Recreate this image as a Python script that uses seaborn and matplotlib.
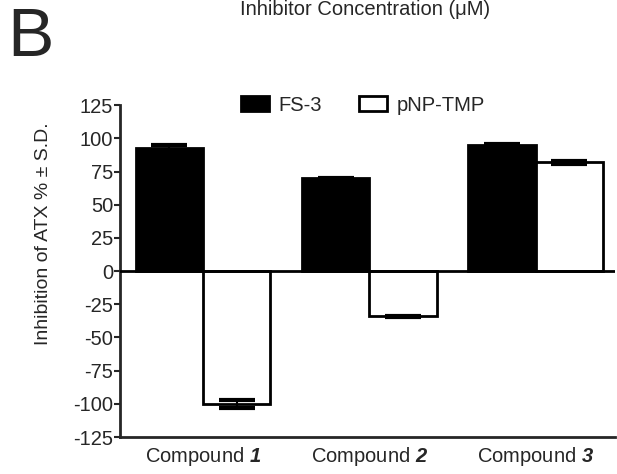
import numpy as np
import pandas as pd
import matplotlib
matplotlib.use("Agg")
import matplotlib.pyplot as plt
import seaborn as sns

# data
compounds = ["Compound 1", "Compound 2", "Compound 3"]
tick_labels = [r"Compound $\mathbfit{1}$", r"Compound $\mathbfit{2}$", r"Compound $\mathbfit{3}$"]
substrates = ["FS-3", "pNP-TMP"]
fs3_mean = [93, 70, 95]
fs3_sd = [2, 0.5, 1]
pnp_mean = [-100, -34, 82]
pnp_sd = [3, 0.5, 1]

df = pd.DataFrame({
    "compound": compounds * 2,
    "substrate": [substrates[0]] * 3 + [substrates[1]] * 3,
    "value": fs3_mean + pnp_mean,
    "sd": fs3_sd + pnp_sd,
})

sns.set_style("ticks")
plt.rcParams["font.family"] = ["Liberation Sans", "DejaVu Sans"]
plt.rcParams["axes.unicode_minus"] = False
plt.rcParams["mathtext.fontset"] = "custom"
plt.rcParams["mathtext.rm"] = "Liberation Sans"
plt.rcParams["mathtext.bfit"] = "Liberation Sans:bold:italic"

fig = plt.figure(figsize=(6.17, 4.74), dpi=100)
ax = fig.add_axes([0.1945, 0.078, 0.803, 0.70])

sns.barplot(data=df, x="compound", y="value", hue="substrate",
            palette=["black", "white"], edgecolor="black", linewidth=2,
            width=0.81, errorbar=None, ax=ax)

# error bars (S.D.) drawn on top of each bar
bars = ax.patches[:len(df)]
for bar, (_, row) in zip(bars, df.iterrows()):
    xc = bar.get_x() + bar.get_width() / 2
    ax.errorbar(xc, row["value"], yerr=row["sd"], fmt="none", ecolor="black",
                elinewidth=1.5, capsize=13, capthick=3, zorder=5)

ax.axhline(0, color="black", lw=2, zorder=4)
ax.set_xlim(-0.5, 2.48)
ax.set_ylim(-125, 125)
ax.set_yticks(np.arange(-125, 126, 25))
ax.set_xticks(range(3))
ax.set_xticklabels(tick_labels, fontsize=14.5)
ax.tick_params(axis="y", labelsize=14.5, length=4, width=1.5, pad=1)
ax.tick_params(axis="x", length=0, pad=6)
ax.set_xlabel("")
ax.set_ylabel("Inhibition of ATX % ± S.D.", fontsize=14)
ax.yaxis.set_label_coords(-0.137, 0.614)

sns.despine(ax=ax)
ax.spines["left"].set_linewidth(2)
ax.spines["bottom"].set_linewidth(2)

leg = ax.legend(loc="center", bbox_to_anchor=(0.49, 1.0), ncol=2, frameon=False,
                fontsize=14.5, handlelength=1.4, handleheight=0.75, columnspacing=1.8,
                handletextpad=0.5)

fig.text(0.592, 0.979, "Inhibitor Concentration (μM)", ha="center", va="center", fontsize=14.5)
fig.text(0.012, 0.92, "B", ha="left", va="center", fontsize=50,
         family=["Liberation Sans Narrow", "Liberation Sans"])

fig.savefig("out.png", dpi=100)
